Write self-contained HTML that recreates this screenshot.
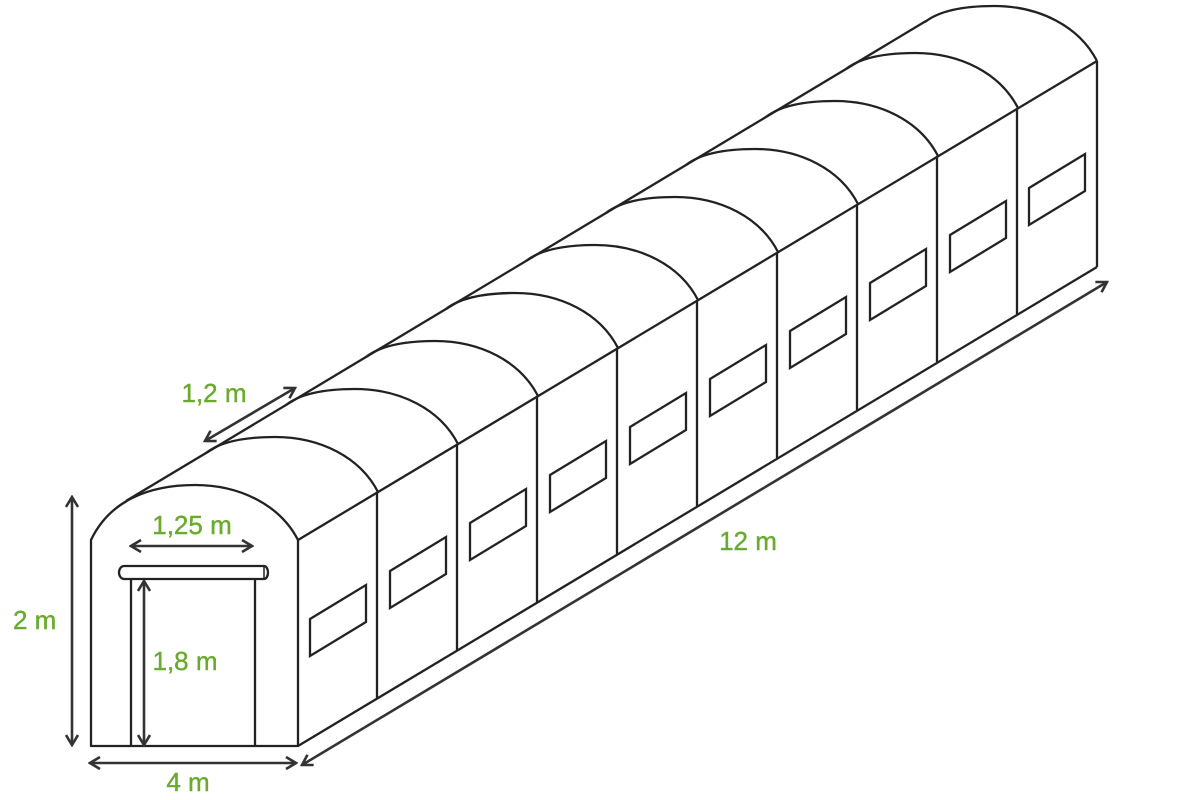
<!DOCTYPE html>
<html><head><style>body{margin:0;background:#fff}svg{display:block}text{font-family:"Liberation Sans",sans-serif;font-size:26px;fill:#6aaa2e;stroke:#6aaa2e;stroke-width:0.4}</style></head><body>
<svg width="1200" height="800" viewBox="0 0 1200 800">
<defs>
<marker id="a" viewBox="0 0 14 14" refX="12" refY="7" markerWidth="14" markerHeight="14" markerUnits="userSpaceOnUse" orient="auto-start-reverse"><polyline points="2,1 12,7 2,13" fill="none" stroke="#333" stroke-width="2.6"/></marker>
</defs>
<g fill="none" stroke="#222" stroke-width="2.3" stroke-linejoin="round">
<path d="M91,746 V540 C110,500 150,485 195,485 C240,485 280,505 298,540 V746 Z"/>
<line x1="126" y1="501" x2="926" y2="21"/>
<line x1="298" y1="540" x2="1097" y2="61"/>
<line x1="298" y1="746" x2="1097" y2="267"/>
</g>
<g fill="none" stroke="#222" stroke-width="2.3">
<path transform="translate(80,-48)" d="M126,501 C140,490 165,485 195,485 C240,485 280,505 298,540"/>
<path transform="translate(160,-96)" d="M126,501 C140,490 165,485 195,485 C240,485 280,505 298,540"/>
<path transform="translate(240,-144)" d="M126,501 C140,490 165,485 195,485 C240,485 280,505 298,540"/>
<path transform="translate(320,-192)" d="M126,501 C140,490 165,485 195,485 C240,485 280,505 298,540"/>
<path transform="translate(400,-240)" d="M126,501 C140,490 165,485 195,485 C240,485 280,505 298,540"/>
<path transform="translate(480,-288)" d="M126,501 C140,490 165,485 195,485 C240,485 280,505 298,540"/>
<path transform="translate(560,-336)" d="M126,501 C140,490 165,485 195,485 C240,485 280,505 298,540"/>
<path transform="translate(640,-384)" d="M126,501 C140,490 165,485 195,485 C240,485 280,505 298,540"/>
<path transform="translate(720,-432)" d="M126,501 C140,490 165,485 195,485 C240,485 280,505 298,540"/>
<path transform="translate(799,-479)" d="M126,501 C140,490 165,485 195,485 C240,485 280,505 298,540"/>
<line x1="377" y1="492" x2="377" y2="698"/>
<line x1="457" y1="444" x2="457" y2="650"/>
<line x1="537" y1="396" x2="537" y2="602"/>
<line x1="617" y1="348" x2="617" y2="554"/>
<line x1="697" y1="300" x2="697" y2="506"/>
<line x1="777" y1="252" x2="777" y2="458"/>
<line x1="857" y1="204" x2="857" y2="410"/>
<line x1="937" y1="156" x2="937" y2="362"/>
<line x1="1017" y1="108" x2="1017" y2="314"/>
<line x1="1097" y1="61" x2="1097" y2="267"/>
<polygon points="310,619 366,585 366,622 310,656"/>
<polygon transform="translate(80,-48)" points="310,619 366,585 366,622 310,656"/>
<polygon transform="translate(160,-96)" points="310,619 366,585 366,622 310,656"/>
<polygon transform="translate(240,-144)" points="310,619 366,585 366,622 310,656"/>
<polygon transform="translate(320,-192)" points="310,619 366,585 366,622 310,656"/>
<polygon transform="translate(400,-240)" points="310,619 366,585 366,622 310,656"/>
<polygon transform="translate(480,-288)" points="310,619 366,585 366,622 310,656"/>
<polygon transform="translate(560,-336)" points="310,619 366,585 366,622 310,656"/>
<polygon transform="translate(640,-384)" points="310,619 366,585 366,622 310,656"/>
<polygon transform="translate(719,-431)" points="310,619 366,585 366,622 310,656"/>
<line x1="131" y1="579" x2="131" y2="746"/>
<line x1="255" y1="579" x2="255" y2="746"/>
<path d="M124,566 H264 A4,6.5 0 0 1 264,579 H124 A5,6.5 0 0 1 124,566 Z"/>
<line x1="264" y1="566" x2="264" y2="579" stroke-width="1.5"/>
</g>
<g stroke="#333" stroke-width="2.6" marker-start="url(#a)" marker-end="url(#a)">
<line x1="72" y1="497" x2="72" y2="745"/>
<line x1="90" y1="763" x2="296" y2="763"/>
<line x1="131" y1="546" x2="252" y2="546"/>
<line x1="144" y1="581" x2="144" y2="745"/>
<line x1="302" y1="765" x2="1107" y2="282"/>
<line x1="205" y1="441" x2="295" y2="388"/>
</g>
<text x="192" y="534" text-anchor="middle">1,25 m</text>
<text x="185" y="670" text-anchor="middle">1,8 m</text>
<text x="13" y="629">2 m</text>
<text x="188" y="791" text-anchor="middle">4 m</text>
<text x="748" y="550" text-anchor="middle">12 m</text>
<text x="214" y="402" text-anchor="middle">1,2 m</text>
</svg>
</body></html>
